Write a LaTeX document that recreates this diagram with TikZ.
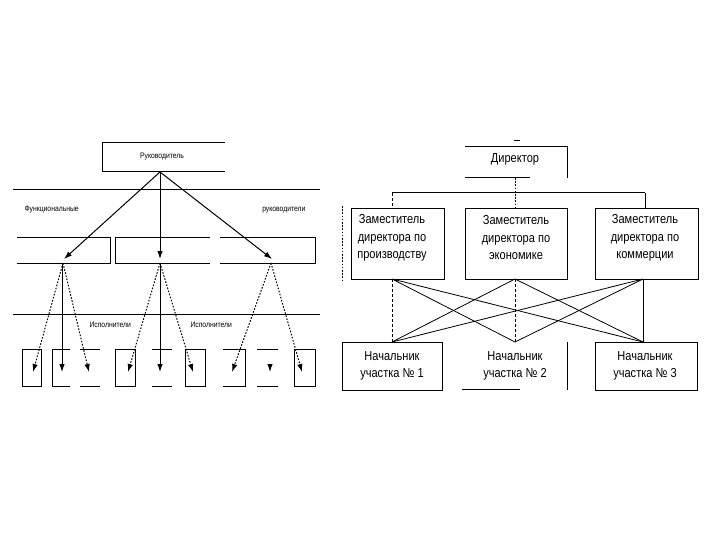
\documentclass[tikz,border=0pt]{standalone}
\usepackage{fontspec}
\setmainfont{Liberation Sans}[FakeStretch=0.85]
\usetikzlibrary{arrows.meta}
\begin{document}
\begin{tikzpicture}[x=1pt,y=-1pt,line width=1pt,
  dotln/.style={dash pattern=on 1.6pt off 1.6pt,line width=1pt},
  dashln/.style={dash pattern=on 3pt off 2pt,line width=0.9pt},
  arr/.style={-{Latex[length=8pt,width=5.5pt]}},
  small/.style={font=\fontsize{8}{9}\selectfont,inner sep=0pt},
  big/.style={font=\fontsize{13}{17.5}\selectfont,align=center,inner sep=0pt}]
\useasboundingbox (0,0) rectangle (720,540);
% ================= LEFT DIAGRAM =================
\draw (225,143) -- (102,143) -- (102,172) -- (225,172);
\node[small] (rk) at (162,157) {Руководитель};
\coordinate (top) at (160,172);
\draw (13,190) -- (320,190);
\node[small,anchor=west] (fn) at (24,210) {Функциональные};
\node[small,anchor=east] (fr) at (306,210) {руководители};
% middle row
\draw (17,237) -- (110,237) -- (110,263) -- (17,263);
\draw (210,237) -- (115,237) -- (115,263) -- (210,263);
\draw (220,237) -- (315,237) -- (315,263) -- (220,263);
\coordinate (a1) at (64,259);
\coordinate (a2) at (160,259);
\coordinate (a3) at (272,259);
\draw[arr] (top) -- (a1);
\draw[arr] (top) -- (a2);
\draw[arr] (top) -- (a3);
\coordinate (s1) at (63,263);
\coordinate (s2) at (160,263);
\coordinate (s3) at (271,263);
\draw (13,314) -- (320,314);
\node[small,anchor=west] (is1) at (89,325) {Исполнители};
\node[small,anchor=west] (is2) at (190,325) {Исполнители};
% bottom row
\draw (22,349) rectangle (41,386);
\draw (70,349) -- (52,349) -- (52,386) -- (70,386);
\draw (80,349) -- (100,349) (80,386) -- (100,386);
\draw (115,349) rectangle (135,386);
\draw (152,349) -- (172,349) (152,386) -- (172,386);
\draw (185,349) rectangle (205,386);
\draw (223,349) -- (245,349) -- (245,386) -- (223,386);
\draw (257,349) -- (278,349) (257,386) -- (278,386);
\draw (294,349) rectangle (315,386);
\coordinate (b1) at (33,372);
\coordinate (b2) at (62,372);
\coordinate (b3) at (89,372);
\coordinate (b4) at (128,372);
\coordinate (b5) at (160,372);
\coordinate (b6) at (193,372);
\coordinate (b7) at (232,372);
\coordinate (b8) at (270,372);
\coordinate (b8s) at (270,364);
\coordinate (b9) at (302,372);
\draw[arr,dotln] (s1) -- (b1);
\draw[arr] (s1 -| b2) -- (b2);
\draw[arr,dotln] (s1) -- (b3);
\draw[arr,dotln] (s2) -- (b4);
\draw[arr] (s2) -- (b5);
\draw[arr,dotln] (s2) -- (b6);
\draw[arr,dotln] (s3) -- (b7);
\draw[arr] (b8s) -- (b8);
\draw[arr,dotln] (s3) -- (b9);
% ================= RIGHT DIAGRAM =================
\draw[line width=0.7pt] (514,140) -- (520,140);
\draw (465,147) -- (567,147) -- (567,178);
\draw[line width=0.7pt] (465,177) -- (530,177);
\node[big] (dir) at (515,159) {Директор};
\coordinate (dirb) at (515,178);
% deputies
\draw (351,209) rectangle (444,279);
\draw[dotln,line width=0.6pt] (342,206) -- (342,282);
\draw (465,209) rectangle (567,279);
\draw (595,209) rectangle (698,279);
\node[big] (z1) at (392,238) {Заместитель\\директора по\\производству};
\node[big] (z2) at (516,238) {Заместитель\\директора по\\экономике};
\node[big] (z3) at (645,238) {Заместитель\\директора по\\коммерции};
\draw (392,193) -- (645,193);
\draw[dashln] (392,193) -- (392,209);
\draw[dotln] (dirb) -- (515,209);
\draw (645,193) -- (645,209);
% heads of sections
\draw (342,342) rectangle (442,390);
\draw (567,342) -- (567,390);
\draw[line width=0.6pt] (462,389) -- (520,389);
\draw (595,342) rectangle (697,390);
\node[big] (n1) at (392,366) {Начальник\\участка № 1};
\node[big] (n2) at (515,366) {Начальник\\участка № 2};
\node[big] (n3) at (645,366) {Начальник\\участка № 3};
\coordinate (u1) at (392,279);
\coordinate (u2) at (515,279);
\coordinate (u3) at (643,279);
\coordinate (d1) at (392,342);
\coordinate (d2) at (515,342);
\coordinate (d3) at (643,342);
\draw[line width=0.8pt] (u1) -- (d2) (u1) -- (d3);
\draw[line width=0.8pt] (u2) -- (d1) (u2) -- (d3);
\draw[line width=0.8pt] (u3) -- (d1) (u3) -- (d2);
\draw[dashln] (u1) -- (d1);
\draw[dashln] (u2) -- (d2);
\draw[line width=0.8pt] (u3) -- (d3);
\end{tikzpicture}
\end{document}
